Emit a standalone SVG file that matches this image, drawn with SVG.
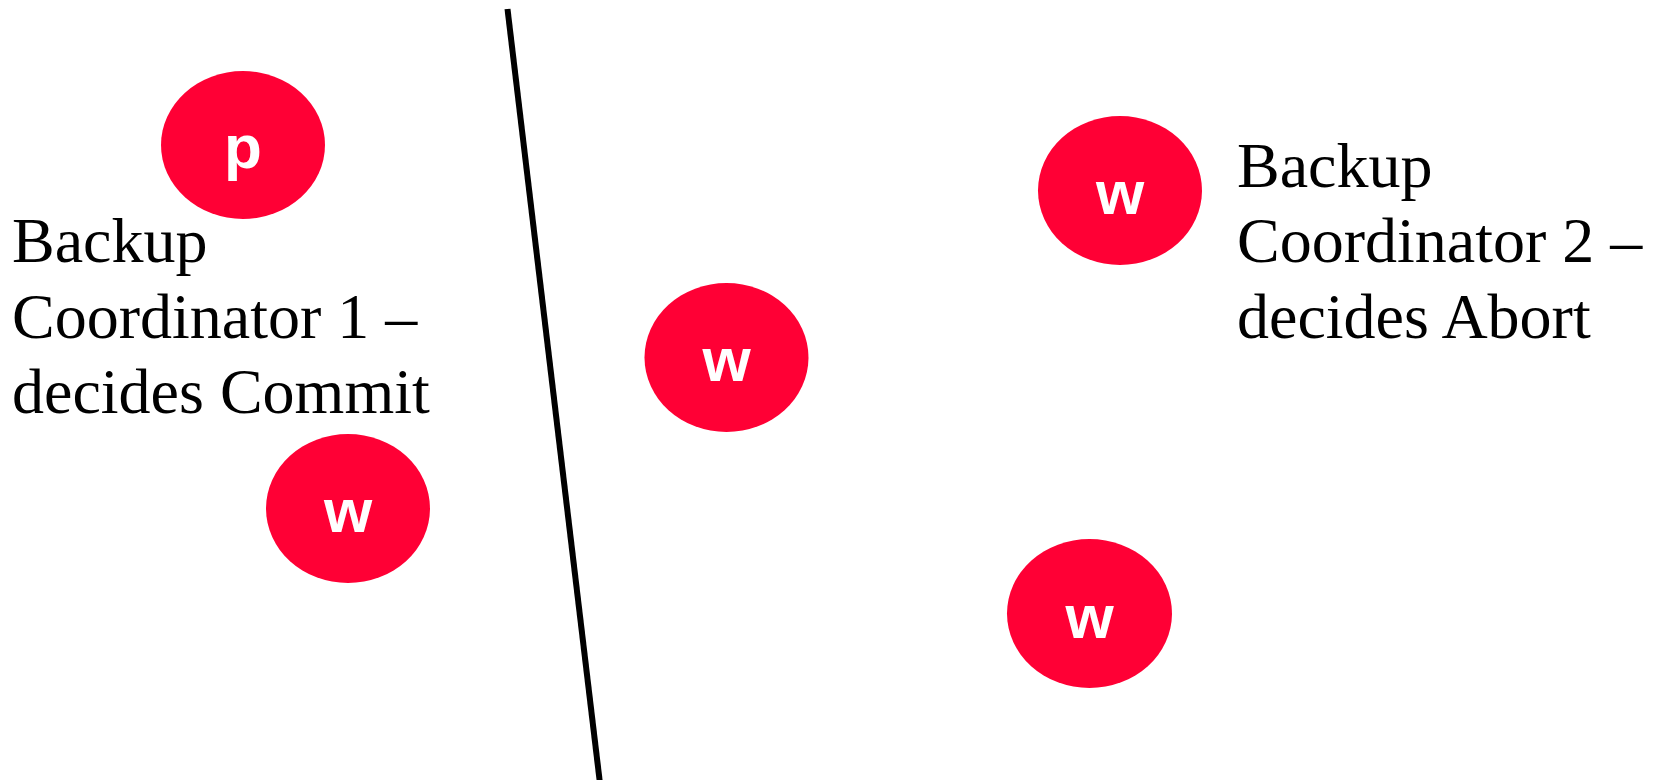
<svg xmlns="http://www.w3.org/2000/svg" width="1658" height="780" viewBox="0 0 1658 780">
<style>
.n{fill:#FF0035}
.l{fill:#fff;font-family:"Liberation Sans",Arial,sans-serif;font-weight:bold;font-size:62px;text-anchor:middle}
.t{fill:#000;font-family:"Liberation Serif","Times New Roman",serif;font-size:64px}
</style>
<rect width="1658" height="780" fill="#fff"/>
<g id="connectors">
<line x1="507.5" y1="9" x2="601" y2="792" stroke="#000" stroke-width="6"/>
</g>
<g id="p1"><ellipse class="n" cx="243" cy="145" rx="82" ry="74"/><text class="l" x="243" y="168">p</text></g>
<g id="w1"><ellipse class="n" cx="348" cy="508.5" rx="82" ry="74.5"/><text class="l" x="348" y="532">w</text></g>
<g id="w2"><ellipse class="n" cx="726.5" cy="357.5" rx="82" ry="74.5"/><text class="l" x="726.5" y="381">w</text></g>
<g id="w3"><ellipse class="n" cx="1120" cy="190.5" rx="82" ry="74.5"/><text class="l" x="1120" y="214">w</text></g>
<g id="w4"><ellipse class="n" cx="1089.5" cy="613.5" rx="82.5" ry="74.5"/><text class="l" x="1089.5" y="638">w</text></g>
<g id="label1"><text class="t" x="12" y="262">Backup<tspan x="12" y="338">Coordinator 1 –</tspan><tspan x="12" y="413">decides Commit</tspan></text></g>
<g id="label2"><text class="t" x="1237" y="187">Backup<tspan x="1237" y="262">Coordinator 2 –</tspan><tspan x="1237" y="338">decides Abort</tspan></text></g>
</svg>
